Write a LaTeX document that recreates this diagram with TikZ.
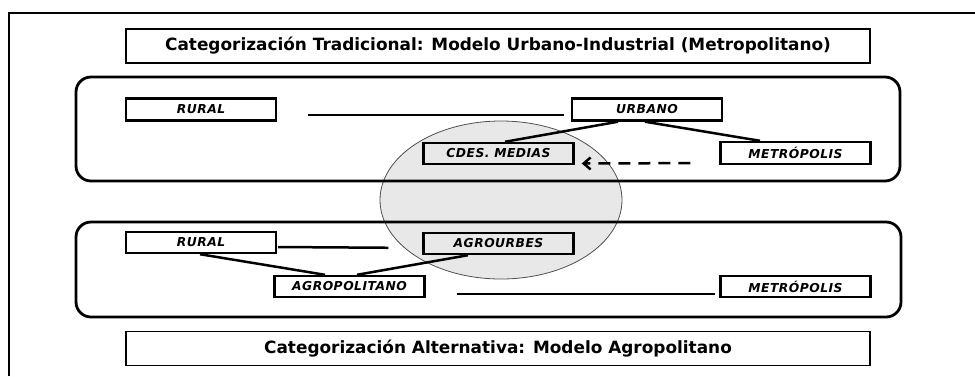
\documentclass[tikz,border=0pt]{standalone}
\usepackage{fontspec}
\setmainfont{DejaVu Sans}
\newfontfamily\lblfont[LetterSpace=4]{DejaVu Sans}
\usetikzlibrary{arrows.meta}
\definecolor{ellfill}{HTML}{E8E8E8}
\definecolor{ellline}{HTML}{505050}
\tikzset{
  lbl/.style={draw, line width=2.4pt, minimum width=150pt, minimum height=22pt, inner sep=0pt,
    font=\lblfont\fontsize{12.3}{13}\selectfont\bfseries\itshape},
  titlebox/.style={draw, line width=1.5pt, minimum width=744pt, minimum height=34pt, inner sep=0pt,
    font=\fontsize{16.9}{18}\selectfont\bfseries},
  conn/.style={line width=2.5pt},
  group/.style={line width=2.8pt, rounded corners=15pt},
}
\begin{document}
\begin{tikzpicture}[x=1pt,y=-1pt]
\useasboundingbox (0,0) rectangle (975,376);
% outer frame
\draw[line width=1.3pt] (9,376) -- (9,13) -- (975,13);
% ellipse
\draw[ellline, line width=0.8pt, fill=ellfill] (501,200) ellipse [x radius=121pt, y radius=79pt];
% group boxes
\draw[group] (76,77) rectangle (900,181);
\draw[group] (76,222) rectangle (901,317);
% titles
\node[titlebox] (ttop) at (498,46) {Categorización Tradicional: Modelo Urbano-Industrial (Metropolitano)};
\node[titlebox] (tbot) at (498,348.5) {Categorización Alternativa: Modelo Agropolitano};
% upper nodes
\node[lbl] (ruralU) at (201,109.5) {RURAL};
\node[lbl] (urbano) at (647,109.5) {URBANO};
\node[lbl, minimum height=21pt] (cdes) at (498.5,153.5) {CDES. MEDIAS};
\node[lbl] (metroU) at (795.5,153) {METRÓPOLIS};
% lower nodes
\node[lbl, minimum height=21pt] (ruralL) at (201,242.5) {RURAL};
\node[lbl, minimum height=21pt] (agrourbes) at (498.5,243.5) {AGROURBES};
\node[lbl, minimum height=21pt] (agropol) at (349.5,286.5) {AGROPOLITANO};
\node[lbl, minimum height=21pt] (metroL) at (795.5,286.5) {METRÓPOLIS};
% upper connectors
\draw[conn, shorten <=31pt, shorten >=7pt] ([yshift=-5.5pt]ruralU.east) -- ([yshift=-5.5pt]urbano.west);
\draw[conn] ([xshift=-29pt]urbano.south) -- ([xshift=6.5pt]cdes.north);
\draw[conn] ([xshift=-2pt]urbano.south) -- ([xshift=-35.5pt]metroU.north);
\draw[conn, dash pattern=on 12pt off 8pt, shorten <=29pt, shorten >=7pt, -{Straight Barb[length=7pt,width=12pt,line width=2.5pt]}]
  ([yshift=-10pt]metroU.west) -- ([yshift=-10pt]cdes.east);
% lower connectors
\draw[conn, shorten <=1pt, shorten >=34pt] ([yshift=-4.5pt]ruralL.east) -- ([yshift=-4.5pt]agrourbes.west);
\draw[conn] ([xshift=-1pt]ruralL.south) -- ([xshift=-24.5pt]agropol.north);
\draw[conn] ([xshift=-30.5pt]agrourbes.south) -- ([xshift=7.5pt]agropol.north);
\draw[conn, shorten <=31pt, shorten >=4pt] ([yshift=-7.5pt]agropol.east) -- ([yshift=-7.5pt]metroL.west);
\end{tikzpicture}
\end{document}
